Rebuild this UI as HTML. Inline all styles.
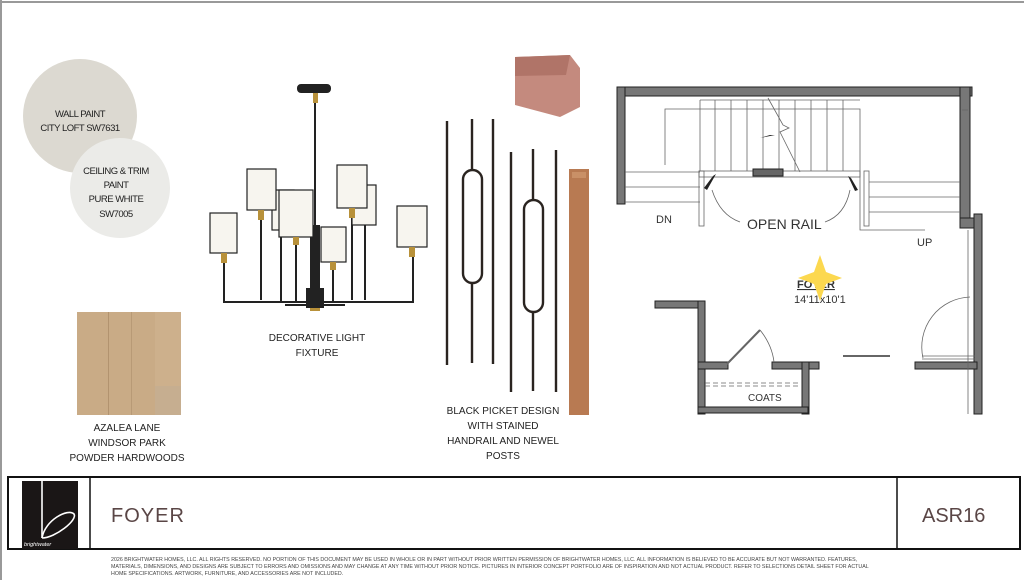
<!DOCTYPE html>
<html><head><meta charset="utf-8"><style>
html,body{margin:0;padding:0;background:#fff;}
svg{display:block;font-family:"Liberation Sans",sans-serif;}
</style></head><body>
<svg width="1024" height="580" viewBox="0 0 1024 580" xmlns="http://www.w3.org/2000/svg">
<rect width="1024" height="580" fill="#fff"/>
<line x1="0" y1="2" x2="1024" y2="2" stroke="#999" stroke-width="2"/>
<line x1="1" y1="0" x2="1" y2="580" stroke="#999" stroke-width="2"/>

<!-- paint circles -->
<circle cx="80" cy="116" r="57" fill="#dcd9d1"/>
<circle cx="120" cy="188" r="50" fill="#ebebe8"/>
<g font-size="9.5" fill="#222" text-anchor="middle" letter-spacing="-0.5">
<text x="80" y="117">WALL PAINT</text>
<text x="80" y="131">CITY LOFT SW7631</text>
<text x="116" y="174">CEILING &amp; TRIM</text>
<text x="116" y="188">PAINT</text>
<text x="116" y="202">PURE WHITE</text>
<text x="116" y="217">SW7005</text>
</g>

<!-- wood -->
<rect x="77" y="312" width="104" height="103" fill="#c9ab86"/>
<rect x="108" y="312" width="1" height="103" fill="#b2936f"/>
<rect x="131" y="312" width="1" height="103" fill="#b89a76"/>
<rect x="155" y="312" width="26" height="75" fill="#cdb08c"/>
<rect x="155" y="386" width="26" height="29" fill="#c6ae90"/>
<g font-size="10" fill="#222" text-anchor="middle">
<text x="127" y="431">AZALEA LANE</text>
<text x="127" y="446">WINDSOR PARK</text>
<text x="127" y="461">POWDER HARDWOODS</text>
</g>

<!-- chandelier -->
<g stroke="#222" fill="none" stroke-width="2">
<rect x="298" y="85" width="32" height="7" rx="3" fill="#222"/>
<line x1="315" y1="92" x2="315" y2="295"/>
<polyline points="224,253 224,302 413,302 413,247"/>
<line x1="261" y1="210" x2="261" y2="300"/>
<line x1="281" y1="235" x2="281" y2="302"/>
<line x1="296" y1="237" x2="296" y2="302"/>
<line x1="333" y1="262" x2="333" y2="302"/>
<line x1="352" y1="208" x2="352" y2="300"/>
<line x1="365" y1="225" x2="365" y2="300"/>
<line x1="285" y1="305" x2="345" y2="305"/>
</g>
<rect x="310" y="225" width="10" height="65" fill="#222"/>
<rect x="306" y="288" width="18" height="20" fill="#222"/>
<rect x="310" y="308" width="10" height="3" fill="#b8913a"/>
<g fill="#f7f5ef" stroke="#222" stroke-width="1.2">
<rect x="272" y="190" width="22" height="40"/>
<rect x="352" y="185" width="24" height="40"/>
<rect x="210" y="213" width="27" height="40"/>
<rect x="247" y="169" width="29" height="41"/>
<rect x="337" y="165" width="30" height="43"/>
<rect x="279" y="190" width="34" height="47"/>
<rect x="321" y="227" width="25" height="35"/>
<rect x="397" y="206" width="30" height="41"/>
</g>
<g fill="#b8913a">
<rect x="221" y="253" width="6" height="10"/><rect x="258" y="210" width="6" height="10"/>
<rect x="293" y="237" width="6" height="8"/><rect x="349" y="208" width="6" height="10"/>
<rect x="330" y="262" width="6" height="8"/><rect x="409" y="247" width="6" height="10"/>
<rect x="313" y="93" width="5" height="10"/>
</g>
<g font-size="10" fill="#222" text-anchor="middle">
<text x="317" y="341">DECORATIVE LIGHT</text>
<text x="317" y="356">FIXTURE</text>
</g>

<!-- pickets -->
<g stroke="#2a2420" stroke-width="2.4" fill="none">
<line x1="447" y1="121" x2="447" y2="365"/>
<line x1="472" y1="119" x2="472" y2="170"/>
<line x1="472" y1="283" x2="472" y2="363"/>
<rect x="463" y="170" width="19" height="113" rx="9.5"/>
<line x1="493" y1="119" x2="493" y2="364"/>
<line x1="511" y1="152" x2="511" y2="392"/>
<line x1="533" y1="149" x2="533" y2="200"/>
<line x1="533" y1="312" x2="533" y2="391"/>
<rect x="524" y="200" width="19" height="112" rx="9.5"/>
<line x1="556" y1="150" x2="556" y2="392"/>
</g>
<!-- handrail block -->
<polygon points="515,57 570,55 580,68 580,107 560,117 515,105" fill="#c48a7e"/>
<polygon points="515,57 570,55 566,75 515,76" fill="#b07468"/>
<!-- newel -->
<rect x="569" y="169" width="20" height="246" fill="#b87a52"/>
<rect x="572" y="172" width="14" height="6" fill="#c99067"/>
<g font-size="10" fill="#222" text-anchor="middle">
<text x="503" y="414">BLACK PICKET DESIGN</text>
<text x="503" y="429">WITH STAINED</text>
<text x="503" y="444">HANDRAIL AND NEWEL</text>
<text x="503" y="459">POSTS</text>
</g>

<!-- floor plan -->
<g fill="#777" stroke="#222" stroke-width="1">
<rect x="617" y="87" width="355" height="9"/>
<rect x="617" y="87" width="8" height="117"/>
<rect x="960" y="87" width="10" height="140"/>
<rect x="960" y="218" width="20" height="10"/>
<rect x="974" y="214" width="8" height="200"/>
<rect x="655" y="301" width="50" height="7"/>
<rect x="698" y="301" width="7" height="113"/>
<rect x="698" y="362" width="30" height="7"/>
<rect x="772" y="362" width="47" height="7"/>
<rect x="802" y="362" width="7" height="52"/>
<rect x="915" y="362" width="62" height="7"/>
<rect x="698" y="407" width="110" height="6"/>
</g>
<g stroke="#666" stroke-width="0.8" fill="none">
<rect x="699" y="171" width="161" height="6" fill="#fff"/>
<rect x="699" y="171" width="5" height="55"/>
<rect x="864" y="171" width="5" height="55"/>
<polyline points="665,165 665,109 860,109 860,230 925,230"/>
<line x1="700" y1="100" x2="700" y2="171"/><line x1="715" y1="100" x2="715" y2="171"/>
<line x1="731" y1="100" x2="731" y2="171"/><line x1="747" y1="100" x2="747" y2="171"/>
<line x1="763" y1="100" x2="763" y2="171"/><line x1="779" y1="100" x2="779" y2="171"/>
<line x1="795" y1="100" x2="795" y2="171"/><line x1="811" y1="100" x2="811" y2="171"/>
<line x1="827" y1="100" x2="827" y2="171"/><line x1="843" y1="100" x2="843" y2="171"/>
<line x1="700" y1="100" x2="860" y2="100"/>
<line x1="625" y1="172" x2="700" y2="172"/><line x1="625" y1="187" x2="700" y2="187"/>
<line x1="625" y1="202" x2="700" y2="202"/>
<line x1="869" y1="182" x2="960" y2="182"/><line x1="869" y1="197" x2="960" y2="197"/>
<line x1="869" y1="212" x2="960" y2="212"/>
<polyline points="768,98 783,125 789,128 780,132 800,172"/>
<path d="M712 190 Q720 215 740 222"/><path d="M850 190 Q845 215 825 222"/>
<path d="M923 358 A50 50 0 0 1 970 297"/>
<line x1="922" y1="356" x2="975" y2="356"/><line x1="922" y1="359" x2="975" y2="359"/>
<line x1="843" y1="356" x2="890" y2="356" stroke-width="2"/>
<line x1="727" y1="364" x2="760" y2="330" stroke-width="2"/>
<path d="M760 330 Q772 345 774 362"/>
<line x1="705" y1="383" x2="800" y2="383" stroke-dasharray="5,3"/>
<line x1="705" y1="386" x2="800" y2="386" stroke-dasharray="5,3"/>
<line x1="968" y1="230" x2="968" y2="414"/>
<line x1="962" y1="110" x2="968" y2="110"/>
</g>
<rect x="753" y="169" width="30" height="7" fill="#666" stroke="#222"/>
<g fill="#222">
<polygon points="713,176 716,174 707,190 704,188"/>
<polygon points="848,176 851,178 858,190 855,191"/>
<polygon points="770,135 775,135 760,138"/>
</g>
<g font-size="11" fill="#333">
<text x="656" y="223">DN</text>
<text x="747" y="229" font-size="14">OPEN RAIL</text>
<text x="917" y="246">UP</text>
<text x="797" y="288" font-size="11" font-weight="bold" text-decoration="underline">FOYER</text>
<text x="794" y="303" font-size="11">14'11x10'1</text>
<text x="748" y="401" font-size="10">COATS</text>
</g>
<polygon points="820,255 826,272 842,278 826,284 820,301 814,284 798,278 814,272" fill="#fcd84f"/>

<!-- title block -->
<rect x="8" y="477" width="1012" height="72" fill="#fff" stroke="#111" stroke-width="2"/>
<line x1="90" y1="477" x2="90" y2="549" stroke="#111" stroke-width="1.5"/>
<line x1="897" y1="477" x2="897" y2="549" stroke="#111" stroke-width="1.5"/>
<rect x="22" y="481" width="56" height="68" fill="#1a1616"/>
<g stroke="#fff" stroke-width="1.6" fill="none">
<line x1="42" y1="481" x2="42" y2="538"/>
<path d="M42 538 C45 520, 68 508, 74 514 C78 520, 55 538, 42 538"/>
</g>
<text x="24" y="546" font-size="5.5" fill="#fff" font-style="italic">brightwater</text>
<text x="111" y="522" font-size="20" fill="#5a4646" letter-spacing="1">FOYER</text>
<text x="922" y="522" font-size="20" fill="#5a4646">ASR16</text>

<g font-size="5.3" fill="#444">
<text x="111" y="561">2026 BRIGHTWATER HOMES, LLC. ALL RIGHTS RESERVED. NO PORTION OF THIS DOCUMENT MAY BE USED IN WHOLE OR IN PART WITHOUT PRIOR WRITTEN PERMISSION OF BRIGHTWATER HOMES, LLC. ALL INFORMATION IS BELIEVED TO BE ACCURATE BUT NOT WARRANTED. FEATURES,</text>
<text x="111" y="568">MATERIALS, DIMENSIONS, AND DESIGNS ARE SUBJECT TO ERRORS AND OMISSIONS AND MAY CHANGE AT ANY TIME WITHOUT PRIOR NOTICE. PICTURES IN INTERIOR CONCEPT PORTFOLIO ARE OF INSPIRATION AND NOT ACTUAL PRODUCT. REFER TO SELECTIONS DETAIL SHEET FOR ACTUAL</text>
<text x="111" y="575">HOME SPECIFICATIONS. ARTWORK, FURNITURE, AND ACCESSORIES ARE NOT INCLUDED.</text>
</g>
</svg>
</body></html>
